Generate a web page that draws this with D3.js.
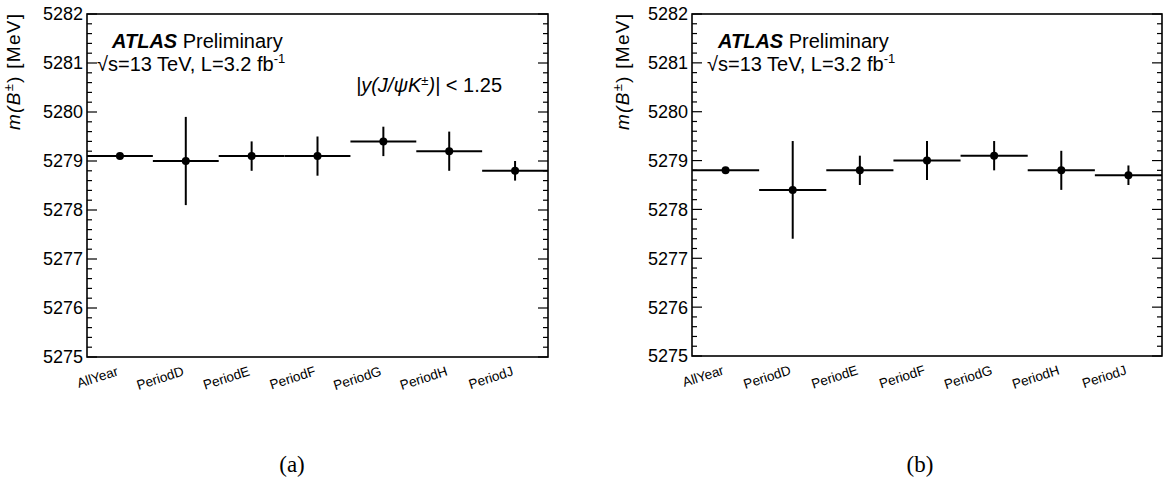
<!DOCTYPE html>
<html>
<head>
<meta charset="utf-8">
<script src="https://cdn.jsdelivr.net/npm/d3@7"></script>
<style>
  html, body { margin: 0; padding: 0; background: #fff; }
  svg { display: block; font-family: "Liberation Sans", Arial, sans-serif; }
</style>
</head>
<body>
<svg id="chart" width="1173" height="479"></svg>
<script>
// B± mass per data-taking period
const categories = ["AllYear", "PeriodD", "PeriodE", "PeriodF", "PeriodG", "PeriodH", "PeriodJ"];
const massCentral = [5279.1, 5279.0, 5279.1, 5279.1, 5279.4, 5279.2, 5278.8];
const errCentral  = [0.05, 0.9, 0.3, 0.4, 0.3, 0.4, 0.2];
const massAll     = [5278.8, 5278.4, 5278.8, 5279.0, 5279.1, 5278.8, 5278.7];
const errAll      = [0.05, 1.0, 0.3, 0.4, 0.3, 0.4, 0.2];
const yTicks = [5275, 5276, 5277, 5278, 5279, 5280, 5281, 5282];
const yDomain = [5275, 5282];

const svg = d3.select("#chart");

function drawPanel(cfg) {
  const { left, right, top, bottom, values, errors, titleX, atlasDx, sqrtDx, caption, captionX, cut } = cfg;
  const g = svg.append("g");

  const x = d3.scaleBand().domain(categories).range([left, right]).paddingInner(0).paddingOuter(0);
  const y = d3.scaleLinear().domain(yDomain).range([bottom, top]);

  // minor ticks every 0.2 MeV, on both vertical sides
  const minor = d3.range(yDomain[0], yDomain[1] + 1e-6, 0.2).map(v => +v.toFixed(1))
    .filter(v => !yTicks.includes(v));
  [[left, 1], [right, -1]].forEach(([xx, dir]) => {
    g.selectAll(null).data(minor).enter().append("line")
      .attr("x1", xx).attr("x2", xx + dir * 5)
      .attr("y1", d => y(d)).attr("y2", d => y(d))
      .attr("stroke", "#000").attr("stroke-width", 1.2);
    g.selectAll(null).data(yTicks).enter().append("line")
      .attr("x1", xx).attr("x2", xx + dir * 10)
      .attr("y1", d => y(d)).attr("y2", d => y(d))
      .attr("stroke", "#000").attr("stroke-width", 1.2);
  });

  // frame
  g.append("rect")
    .attr("x", left).attr("y", top)
    .attr("width", right - left).attr("height", bottom - top)
    .attr("fill", "none").attr("stroke", "#000").attr("stroke-width", 1.6);

  // y tick labels
  g.selectAll(null).data(yTicks).enter().append("text")
    .attr("x", left - 4).attr("y", d => y(d))
    .attr("dy", "0.36em")
    .attr("text-anchor", "end")
    .attr("font-size", 18)
    .text(d => d);

  // x category labels, tilted
  g.selectAll(null).data(categories).enter().append("text")
    .attr("transform", d => `translate(${x(d) + x.bandwidth() / 2 - 1},${bottom + 18}) rotate(-18)`)
    .attr("text-anchor", "end")
    .attr("font-size", 13.5)
    .text(d => d);

  // y axis title, aligned with the top end of the axis
  const yt = g.append("text")
    .attr("transform", `translate(${titleX},${top}) rotate(-90)`)
    .attr("text-anchor", "end")
    .attr("font-size", 19)
    .attr("textLength", 116)
    .attr("lengthAdjust", "spacing");
  yt.append("tspan").attr("font-style", "italic").text("m(B");
  yt.append("tspan").attr("font-size", 13).attr("dy", -7).text("±");
  yt.append("tspan").attr("dy", 7).text(")  [MeV]");

  // data: horizontal bin widths, vertical error bars, markers
  const pts = categories.map((c, i) => ({ c, v: values[i], e: errors[i] }));
  g.selectAll(null).data(pts).enter().append("line")
    .attr("x1", d => x(d.c)).attr("x2", d => x(d.c) + x.bandwidth())
    .attr("y1", d => y(d.v)).attr("y2", d => y(d.v))
    .attr("stroke", "#000").attr("stroke-width", 2);
  g.selectAll(null).data(pts).enter().append("line")
    .attr("x1", d => x(d.c) + x.bandwidth() / 2).attr("x2", d => x(d.c) + x.bandwidth() / 2)
    .attr("y1", d => y(d.v - d.e)).attr("y2", d => y(d.v + d.e))
    .attr("stroke", "#000").attr("stroke-width", 2);
  g.selectAll(null).data(pts).enter().append("circle")
    .attr("cx", d => x(d.c) + x.bandwidth() / 2).attr("cy", d => y(d.v))
    .attr("r", 4).attr("fill", "#000");

  // ATLAS label
  const t1 = g.append("text").attr("x", left + atlasDx).attr("y", 48).attr("font-size", 20);
  t1.append("tspan").attr("font-weight", "bold").attr("font-style", "italic").text("ATLAS");
  t1.append("tspan").text(" Preliminary");
  const t2 = g.append("text").attr("x", left + sqrtDx).attr("y", 71).attr("font-size", 20);
  t2.append("tspan").text("\u221As=13 TeV, L=3.2 fb");
  t2.append("tspan").attr("font-size", 13).attr("dy", -8).text("-1");

  if (cut) {
    const t3 = g.append("text").attr("x", cut.x).attr("y", cut.y).attr("font-size", 20);
    t3.append("tspan").attr("font-style", "italic").text("|y(J/\u03C8K");
    t3.append("tspan").attr("font-size", 13).attr("dy", -7).text("±");
    t3.append("tspan").attr("dy", 7).attr("font-style", "italic").text(")|");
    t3.append("tspan").text(" < 1.25");
  }

  // sub-figure caption
  svg.append("text")
    .attr("x", captionX).attr("y", 472)
    .attr("text-anchor", "middle")
    .attr("font-family", "'Liberation Serif', 'DejaVu Serif', serif")
    .attr("font-size", 23)
    .text(caption);
}

drawPanel({
  left: 87, right: 548, top: 14, bottom: 357,
  values: massCentral, errors: errCentral,
  titleX: 20, atlasDx: 25, sqrtDx: 10,
  caption: "(a)", captionX: 292,
  cut: { x: 356, y: 92 }
});

drawPanel({
  left: 692, right: 1162, top: 14, bottom: 356,
  values: massAll, errors: errAll,
  titleX: 629, atlasDx: 26, sqrtDx: 15,
  caption: "(b)", captionX: 920,
  cut: null
});
</script>
</body>
</html>
